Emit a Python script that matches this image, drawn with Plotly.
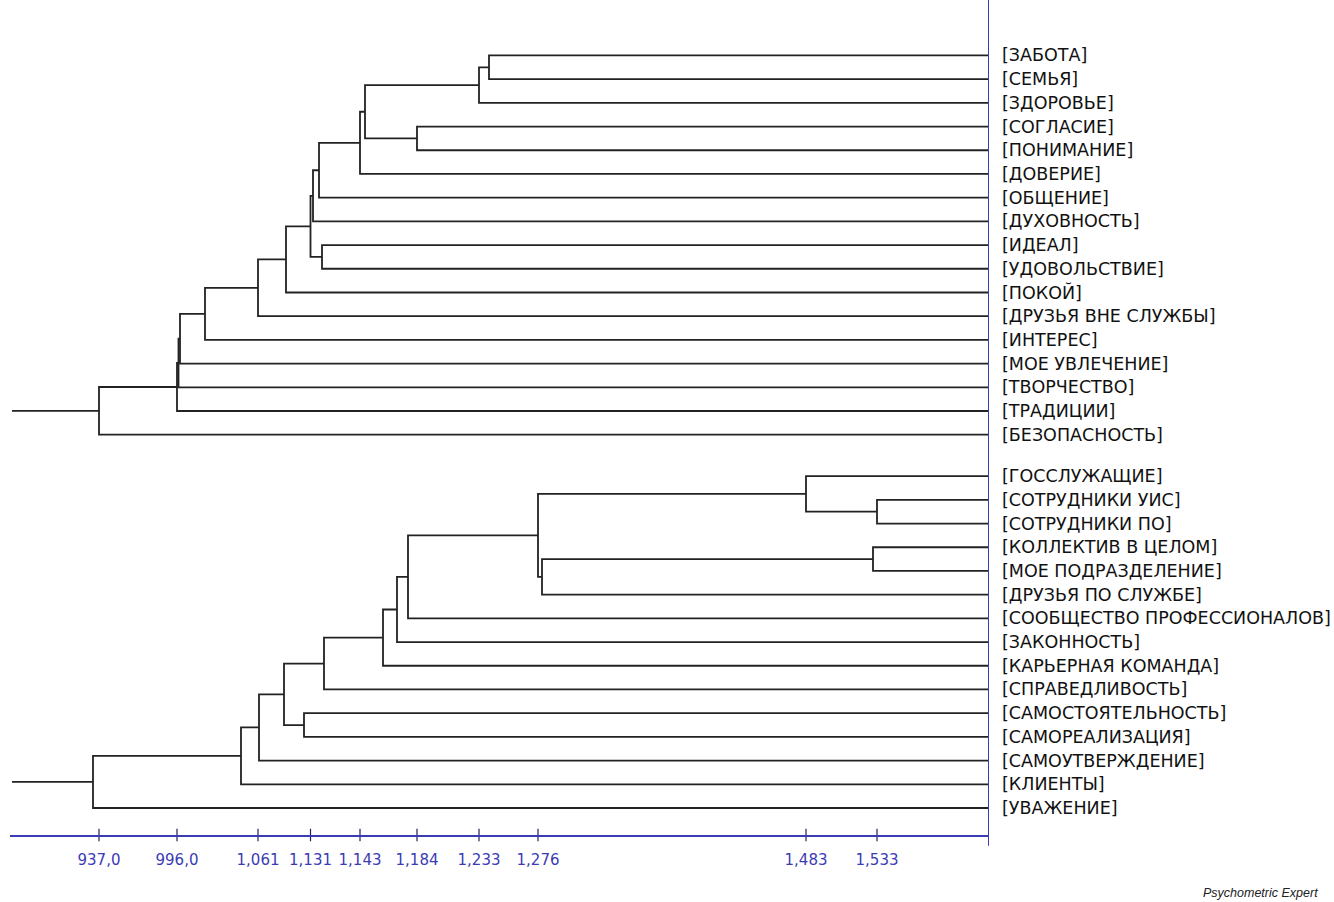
import plotly.graph_objects as go

# ---------------- data ----------------
top_leaves = ["[ЗАБОТА]", "[СЕМЬЯ]", "[ЗДОРОВЬЕ]", "[СОГЛАСИЕ]", "[ПОНИМАНИЕ]", "[ДОВЕРИЕ]",
              "[ОБЩЕНИЕ]", "[ДУХОВНОСТЬ]", "[ИДЕАЛ]", "[УДОВОЛЬСТВИЕ]", "[ПОКОЙ]",
              "[ДРУЗЬЯ ВНЕ СЛУЖБЫ]", "[ИНТЕРЕС]", "[МОЕ УВЛЕЧЕНИЕ]", "[ТВОРЧЕСТВО]",
              "[ТРАДИЦИИ]", "[БЕЗОПАСНОСТЬ]"]
# merges: (child a, child b) ; ids < n are leaves, n+k is the k-th merge
top_merge_a = [0, 17, 3, 18, 20, 21, 22, 8, 23, 25, 26, 27, 28, 29, 30, 31]
top_merge_b = [1, 2, 4, 19, 5, 6, 7, 9, 24, 10, 11, 12, 13, 14, 15, 16]
top_merge_level = [500, 510, 572, 624, 629, 670, 676, 667, 678.5, 703, 731, 784, 809, 810.5, 812, 890]

bottom_leaves = ["[ГОССЛУЖАЩИЕ]", "[СОТРУДНИКИ УИС]", "[СОТРУДНИКИ ПО]", "[КОЛЛЕКТИВ В ЦЕЛОМ]",
                 "[МОЕ ПОДРАЗДЕЛЕНИЕ]", "[ДРУЗЬЯ ПО СЛУЖБЕ]", "[СООБЩЕСТВО ПРОФЕССИОНАЛОВ]",
                 "[ЗАКОННОСТЬ]", "[КАРЬЕРНАЯ КОМАНДА]", "[СПРАВЕДЛИВОСТЬ]", "[САМОСТОЯТЕЛЬНОСТЬ]",
                 "[САМОРЕАЛИЗАЦИЯ]", "[САМОУТВЕРЖДЕНИЕ]", "[КЛИЕНТЫ]", "[УВАЖЕНИЕ]"]
bottom_merge_a = [1, 0, 3, 17, 16, 19, 20, 21, 22, 10, 23, 25, 26, 27]
bottom_merge_b = [2, 15, 4, 5, 18, 6, 7, 8, 9, 11, 24, 12, 13, 14]
bottom_merge_level = [112, 183, 116, 447, 451, 581, 592, 606, 665, 685, 705, 730, 748, 896]

tick_levels = [890, 812, 731, 678.5, 629, 572, 510, 451, 183, 112]
tick_labels = ["937,0", "996,0", "1,061", "1,131", "1,143", "1,184", "1,233", "1,276", "1,483", "1,533"]

bottom_row_offset = 17.75   # first row of the lower tree
root_stub_level = 977
axis_max = 979

# ---------------- build segments ----------------
xs, ys = [], []


def add_tree(leaves, ma, mb, lev, row0):
    n = len(leaves)
    pos = {i: (0.0, row0 + i) for i in range(n)}
    for k, (a, b, h) in enumerate(zip(ma, mb, lev)):
        xa, ya = pos[a]
        xb, yb = pos[b]
        xs.extend([xa, h, h, xb, None])
        ys.extend([ya, ya, yb, yb, None])
        pos[n + k] = (h, (ya + yb) / 2)
    rx, ry = pos[n + len(ma) - 1]
    xs.extend([rx, root_stub_level, None])
    ys.extend([ry, ry, None])
    return [(row0 + i, lab) for i, lab in enumerate(leaves)]


labels = add_tree(top_leaves, top_merge_a, top_merge_b, top_merge_level, 0)
labels += add_tree(bottom_leaves, bottom_merge_a, bottom_merge_b, bottom_merge_level, bottom_row_offset)

y_bottom = 32.89
y_top = -2.34

BLUE = "#3b3bb5"

fig = go.Figure()
fig.add_trace(go.Scatter(x=xs, y=ys, mode="lines",
                         line=dict(color="#222222", width=1.8),
                         hoverinfo="skip", showlegend=False))
# tick marks crossing the axis
fig.add_trace(go.Scatter(x=tick_levels, y=[y_bottom] * len(tick_levels), mode="markers",
                         marker=dict(symbol="line-ns", size=9,
                                     line=dict(color="#202060", width=1.2)),
                         cliponaxis=False, hoverinfo="skip", showlegend=False))

for row, lab in labels:
    fig.add_annotation(x=1, xref="paper", y=row, yref="y", text=lab, showarrow=False,
                       xanchor="left", xshift=11,
                       font=dict(family="DejaVu Sans", size=17.5, color="#111111"))

fig.add_annotation(x=1, xref="paper", y=0, yref="paper", text="<i>Psychometric Expert</i>",
                   showarrow=False, xanchor="right", yanchor="middle", xshift=331, yshift=-58,
                   font=dict(family="Liberation Sans", size=12.5, color="#222222"))

# vertical blue line at leaves
fig.add_shape(type="line", xref="x", yref="paper", x0=0, x1=0, y0=-0.013, y1=1,
              line=dict(color=BLUE, width=2))

fig.update_xaxes(range=[axis_max, 0], showgrid=False, zeroline=False,
                 showline=True, linecolor=BLUE, linewidth=2,
                 tickmode="array", tickvals=tick_levels, ticktext=tick_labels,
                 ticks="", ticklabelstandoff=10,
                 tickfont=dict(family="DejaVu Sans", size=15, color=BLUE))
fig.update_yaxes(range=[y_bottom, y_top], visible=False, showgrid=False, zeroline=False)

fig.update_layout(width=1334, height=902, margin=dict(l=10, r=345, t=0, b=67),
                  plot_bgcolor="white", paper_bgcolor="white", showlegend=False)

fig.write_html("out.html", config={"displayModeBar": False},
               post_script="document.body.style.margin='0';")
